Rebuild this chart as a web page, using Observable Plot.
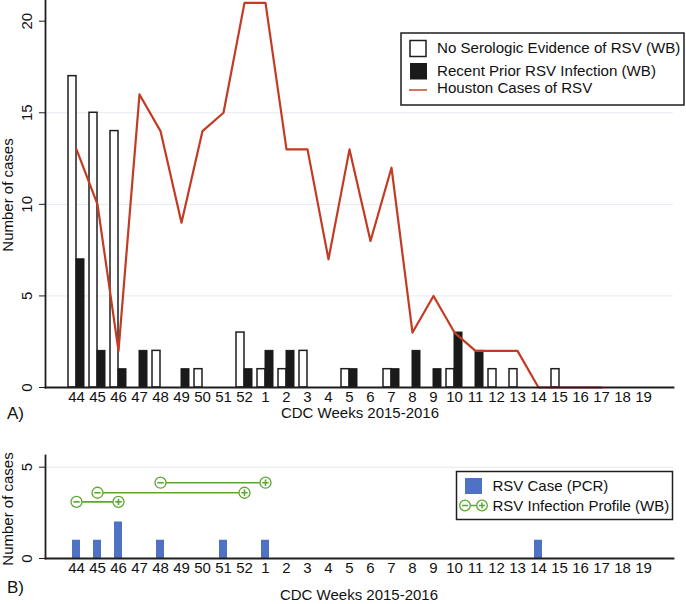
<!DOCTYPE html>
<html><head><meta charset="utf-8">
<script src="https://cdn.jsdelivr.net/npm/d3@7"></script>
<script src="https://cdn.jsdelivr.net/npm/@observablehq/plot@0.6"></script>
<style>
html,body{margin:0;padding:0;background:#fff;}
#wrap{position:relative;width:686px;height:604px;overflow:hidden;background:#fff;}
#wrap > svg{position:absolute;left:0;margin:0;}
</style></head><body><div id="wrap"></div>
<script>
// ---- data ----
const weeks = ["44","45","46","47","48","49","50","51","52","1","2","3","4","5","6","7","8","9","10","11","12","13","14","15","16","17","18","19"];
const noSerologic = [17,15,14,0,2,0,1,0,3,1,1,2,0,1,0,1,0,0,1,0,1,1,0,1,0,0,0,0];
const recentPrior = [7,2,1,2,0,1,0,0,1,2,2,0,0,1,0,1,2,1,3,2,0,0,0,0,0,0,0,0];
const houstonWeeks = ["44","45","46","47","48","49","50","51","52","1","2","3","4","5","6","7","8","9","10","11","12","13","14","15","16","17"];
const houstonCases = [13,10,2,16,14,9,14,15,21,21,13,13,7,13,8,12,3,5,3,2,2,2,0,0,0,0];
const pcrWeeks = ["44","45","46","48","51","1","14"];
const pcrCases = [1,1,2,1,1,1,1];
const profileStart = ["44","45","48"];
const profileEnd = ["46","52","1"];
const profileLevel = [3.1,3.6,4.15];
const topTicks = [0,5,10,15,20];
const bottomTicks = [0,5];

// ---- tables ----
const barRows = weeks.map((w,i)=>({week:w, noSero:noSerologic[i], recent:recentPrior[i]}));
const houstonRows = houstonWeeks.map((w,i)=>({week:w, cases:houstonCases[i]}));
const pcrRows = pcrWeeks.map((w,i)=>({week:w, cases:pcrCases[i]}));
const profiles = profileStart.map((s,i)=>({start:s, end:profileEnd[i], level:profileLevel[i]}));

const font = '"Liberation Sans", Arial, Helvetica, sans-serif';
const ink = "#1e1e1e";
const red = "#c23b22";
const blue = "#4f72c4";
const green = "#5aa832";
const gridColor = "#e4eaf1";
const xScale = {type:"band", domain:weeks, paddingInner:0.24, paddingOuter:1.02, align:0.5};
const intFmt = d => String(d);

const minusSym = {draw(ctx,size){const r=Math.sqrt(size/Math.PI); ctx.moveTo(-r,0); ctx.lineTo(r,0);}};
const plusSym = {draw(ctx,size){const r=Math.sqrt(size/Math.PI); ctx.moveTo(-r,0); ctx.lineTo(r,0); ctx.moveTo(0,-r); ctx.lineTo(0,r);}};

const wrap = document.getElementById("wrap");

// ---- panel A ----
const topPlot = Plot.plot({
  width:686, height:420, marginLeft:45, marginRight:13, marginTop:0, marginBottom:33,
  style:{fontFamily:font, fontSize:"15px", color:"#111", background:"transparent", overflow:"visible"},
  x:xScale, y:{domain:[0,21.13]},
  marks:[
    Plot.gridY([5,10,15], {stroke:gridColor, strokeOpacity:1}),
    Plot.barY(barRows.filter(d=>d.noSero>0), {x:"week", y:"noSero", insetRight:8, fill:"white", stroke:ink, strokeWidth:1.5}),
    Plot.barY(barRows.filter(d=>d.recent>0), {x:"week", y:"recent", insetLeft:8, fill:"#1a1a1a", stroke:"#1a1a1a", strokeWidth:1}),
    Plot.line(houstonRows, {x:"week", y:"cases", stroke:red, strokeWidth:2.2}),
    Plot.frame({anchor:"left", stroke:ink, strokeWidth:1.8}),
    Plot.frame({anchor:"bottom", stroke:ink, strokeWidth:1.8}),
    Plot.axisX({tickSize:0, tickPadding:4, label:null}),
    Plot.axisY({ticks:topTicks, tickFormat:intFmt, tickSize:6, tickPadding:8, tickRotate:-90, label:null, stroke:ink})
  ]
});
topPlot.style.top = "0px";
wrap.appendChild(topPlot);

// ---- panel B ----
const botPlot = Plot.plot({
  width:686, height:164, marginLeft:45, marginRight:13, marginTop:15, marginBottom:46,
  style:{fontFamily:font, fontSize:"15px", color:"#111", background:"transparent", overflow:"visible"},
  x:xScale, y:{domain:[0,5.64]},
  marks:[
    Plot.gridY([5], {stroke:gridColor, strokeOpacity:1}),
    Plot.barY(pcrRows, {x:"week", y:"cases", insetLeft:4, insetRight:4, fill:blue}),
    Plot.link(profiles, {x1:"start", x2:"end", y1:"level", y2:"level", stroke:green, strokeWidth:1.6}),
    Plot.dot(profiles, {x:"start", y:"level", r:5.5, fill:"white", stroke:green, strokeWidth:1.3}),
    Plot.dot(profiles, {x:"end", y:"level", r:5.5, fill:"white", stroke:green, strokeWidth:1.3}),
    Plot.dot(profiles, {x:"start", y:"level", r:3.2, symbol:minusSym, fill:"none", stroke:green, strokeWidth:1.6}),
    Plot.dot(profiles, {x:"end", y:"level", r:3.2, symbol:plusSym, fill:"none", stroke:green, strokeWidth:1.6}),
    Plot.frame({anchor:"left", stroke:ink, strokeWidth:1.8}),
    Plot.frame({anchor:"bottom", stroke:ink, strokeWidth:1.8}),
    Plot.axisX({tickSize:0, tickPadding:4, label:null}),
    Plot.axisY({ticks:bottomTicks, tickFormat:intFmt, tickSize:6, tickPadding:8, tickRotate:-90, label:null, stroke:ink})
  ]
});
botPlot.style.top = "440px";
wrap.appendChild(botPlot);

// ---- overlay: titles and legends ----
const ov = d3.select(wrap).append("svg")
  .attr("width",686).attr("height",604)
  .style("top","0px").style("left","0px")
  .attr("font-family", font).attr("fill","#111");

// axis titles
ov.append("text").attr("transform","translate(13,195) rotate(-90)").attr("text-anchor","middle").attr("font-size",15).text("Number of cases");
ov.append("text").attr("transform","translate(13,509) rotate(-90)").attr("text-anchor","middle").attr("font-size",15).text("Number of cases");
ov.append("text").attr("x",360).attr("y",418).attr("text-anchor","middle").attr("font-size",15).text("CDC Weeks 2015-2016");
ov.append("text").attr("x",359).attr("y",600).attr("text-anchor","middle").attr("font-size",15).text("CDC Weeks 2015-2016");
ov.append("text").attr("x",7).attr("y",419).attr("font-size",17).text("A)");
ov.append("text").attr("x",7).attr("y",593).attr("font-size",17).text("B)");

// legend A
const la = ov.append("g");
la.append("rect").attr("x",401).attr("y",33).attr("width",283).attr("height",72).attr("fill","white").attr("stroke",ink).attr("stroke-width",1.5);
la.append("rect").attr("x",410).attr("y",40.5).attr("width",16).attr("height",16).attr("fill","white").attr("stroke",ink).attr("stroke-width",1.5);
la.append("rect").attr("x",410).attr("y",63).attr("width",17).attr("height",16.5).attr("fill","#1a1a1a");
la.append("line").attr("x1",409).attr("x2",427).attr("y1",90).attr("y2",90).attr("stroke","#d4654c").attr("stroke-width",1.8);
const legendA = ["No Serologic Evidence of RSV (WB)","Recent Prior RSV Infection (WB)","Houston Cases of RSV"];
const legendAY = [53.3,75.5,93.3];
legendA.forEach((t,i)=>la.append("text").attr("x",437).attr("y",legendAY[i]).attr("font-size",15.1).text(t));

// legend B
const lb = ov.append("g");
lb.append("rect").attr("x",456.5).attr("y",471.5).attr("width",216).attr("height",48).attr("fill","white").attr("stroke",ink).attr("stroke-width",1.5);
lb.append("rect").attr("x",465).attr("y",478).attr("width",17).attr("height",16).attr("fill",blue);
lb.append("line").attr("x1",465).attr("x2",482).attr("y1",505.5).attr("y2",505.5).attr("stroke",green).attr("stroke-width",1.5);
[465,482].forEach(cx=>lb.append("circle").attr("cx",cx).attr("cy",505.5).attr("r",5.3).attr("fill","white").attr("stroke",green).attr("stroke-width",1.3));
lb.append("path").attr("d","M462,505.5H468").attr("stroke",green).attr("stroke-width",1.5);
lb.append("path").attr("d","M479,505.5H485M482,502.5V508.5").attr("stroke",green).attr("stroke-width",1.5);
lb.append("text").attr("x",492.5).attr("y",490.5).attr("font-size",15).text("RSV Case (PCR)");
lb.append("text").attr("x",492.5).attr("y",510.5).attr("font-size",15).text("RSV Infection Profile (WB)");
</script>
</body></html>
